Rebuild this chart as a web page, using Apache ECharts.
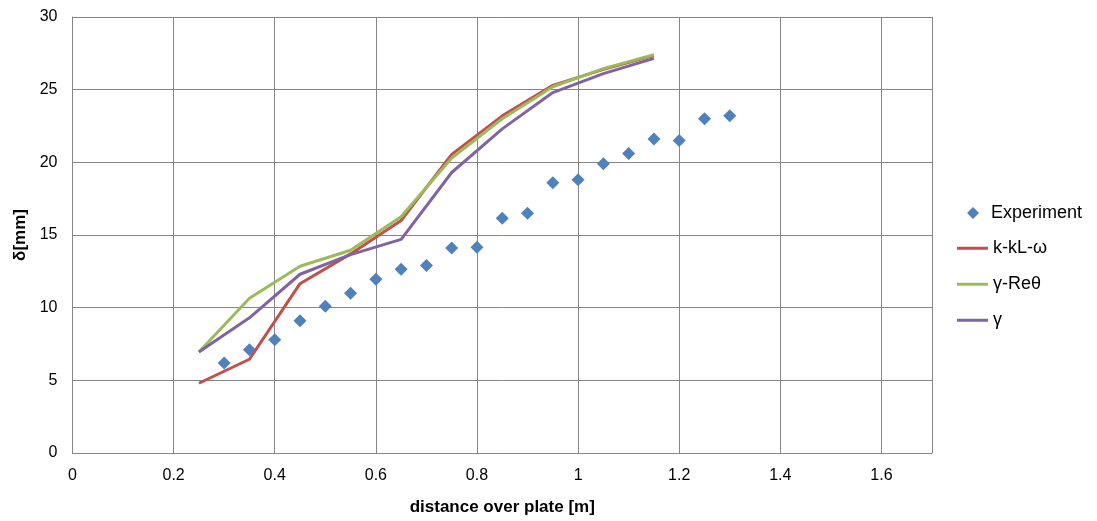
<!DOCTYPE html>
<html>
<head>
<meta charset="utf-8">
<script src="https://cdn.jsdelivr.net/npm/echarts@6/dist/echarts.min.js"></script>
<style>html,body{margin:0;padding:0;background:#fff}#c{width:1097px;height:521px}</style>
</head>
<body>
<div id="c"></div>
<script>
const expX = [0.3,0.35,0.4,0.45,0.5,0.55,0.6,0.65,0.7,0.75,0.8,0.85,0.9,0.95,1.0,1.05,1.1,1.15,1.2,1.25,1.3];
const expY = [6.2,7.1,7.8,9.1,10.1,11.0,11.95,12.65,12.9,14.1,14.15,16.15,16.5,18.6,18.8,19.9,20.6,21.6,21.5,23.0,23.2];
const simX = [0.25,0.35,0.45,0.55,0.65,0.75,0.85,0.95,1.05,1.15];
const kklw = [4.8,6.45,11.65,13.7,16.0,20.55,23.2,25.3,26.4,27.35];
const gRe = [6.95,10.65,12.85,13.95,16.25,20.3,23.0,25.2,26.45,27.4];
const gam = [6.95,9.3,12.3,13.65,14.7,19.3,22.3,24.8,26.1,27.15];
const seriesNames = ['Experiment','k-kL-ω','γ-Reθ','γ'];
const colors = ['#4F81BD','#C0504D','#9BBB59','#8064A2'];
const xTitle = 'distance over plate [m]';
const yTitle = 'δ[mm]';

const pairs = (xs, ys) => xs.map((x, i) => [x, ys[i]]);
const font = 'Liberation Sans';
const chart = echarts.init(document.getElementById('c'));
chart.setOption({
  animation: false,
  textStyle: {fontFamily: font},
  grid: {left: 72.5, right: 165, top: 17, bottom: 68, containLabel: false},
  xAxis: {
    type: 'value', min: 0, max: 1.7, interval: 0.2,
    name: xTitle, nameLocation: 'middle', nameGap: 46,
    nameTextStyle: {fontFamily: font, fontWeight: 'bold', fontSize: 17, color: '#000'},
    axisLine: {show: true, lineStyle: {color: '#868686', width: 1}},
    axisTick: {show: false},
    axisLabel: {color: '#000', fontSize: 16, margin: 15, fontFamily: font, showMaxLabel: false,
      formatter: v => (Math.abs(v - 1.7) < 1e-6 ? '' : String(+v.toFixed(1)))},
    splitLine: {show: true, lineStyle: {color: '#868686', width: 1}}
  },
  yAxis: {
    type: 'value', min: 0, max: 30, interval: 5,
    name: yTitle, nameLocation: 'middle', nameGap: 42, nameRotate: 90,
    nameTextStyle: {fontFamily: font, fontWeight: 'bold', fontSize: 17, color: '#000'},
    axisLine: {show: true, lineStyle: {color: '#868686', width: 1}},
    axisTick: {show: false},
    axisLabel: {color: '#000', fontSize: 16, margin: 15, fontFamily: font},
    splitLine: {show: true, lineStyle: {color: '#868686', width: 1}}
  },
  legend: [
    {
      orient: 'vertical', left: 962, top: 199,
      data: [{name: seriesNames[0], icon: 'diamond'}],
      itemWidth: 12, itemHeight: 12,
      textStyle: {fontSize: 18, color: '#000', fontFamily: font, padding: [0,0,0,7]}
    },
    {
      orient: 'vertical', left: 952, top: 234, itemGap: 17.5,
      data: [{name: seriesNames[1], icon: 'rect'}, {name: seriesNames[2], icon: 'rect'}, {name: seriesNames[3], icon: 'rect'}],
      itemWidth: 31, itemHeight: 3,
      textStyle: {fontSize: 18, color: '#000', fontFamily: font, lineHeight: 18.5}
    }
  ],
  series: [
    {name: seriesNames[0], type: 'scatter', data: pairs(expX, expY), symbol: 'diamond', symbolSize: 13,
      itemStyle: {color: colors[0], opacity: 1}},
    {name: seriesNames[1], type: 'line', data: pairs(simX, kklw), showSymbol: false, symbol: 'none',
      lineStyle: {color: colors[1], width: 3}, itemStyle: {color: colors[1]}},
    {name: seriesNames[2], type: 'line', data: pairs(simX, gRe), showSymbol: false, symbol: 'none',
      lineStyle: {color: colors[2], width: 3}, itemStyle: {color: colors[2]}},
    {name: seriesNames[3], type: 'line', data: pairs(simX, gam), showSymbol: false, symbol: 'none',
      lineStyle: {color: colors[3], width: 3}, itemStyle: {color: colors[3]}}
  ]
});
</script>
</body>
</html>
